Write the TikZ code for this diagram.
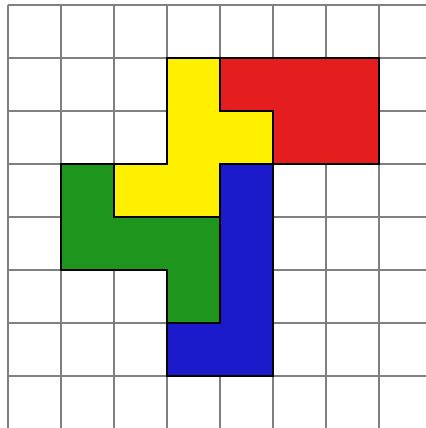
\documentclass[tikz,border=0pt]{standalone}
\definecolor{pyellow}{RGB}{255,240,0}
\definecolor{pred}{RGB}{228,30,30}
\definecolor{pblue}{RGB}{27,27,204}
\definecolor{pgreen}{RGB}{30,150,30}
\begin{document}
\begin{tikzpicture}[x=1cm,y=1cm]
   \useasboundingbox (-0.151,0.019) rectangle (7.868,8.094);
   %grid
   \draw[gray,line width=0.6pt] (0,0) grid (8,8);
   %yellow
   \filldraw[fill=pyellow,draw=black,line width=0.8pt] (3,7) -- (4,7) -- (4,6) -- (5,6) -- (5,5) -- (4,5) -- (4,4) -- (2,4) -- (2,5) -- (3,5) -- cycle;
   %red
   \filldraw[fill=pred,draw=black,line width=0.8pt] (4,7) -- (7,7) -- (7,5) -- (5,5) -- (5,6) -- (4,6) -- cycle;
   %blue
   \filldraw[fill=pblue,draw=black,line width=0.8pt] (4,5) -- (5,5) -- (5,1) -- (3,1) -- (3,2) -- (4,2) -- cycle;
   %green
   \filldraw[fill=pgreen,draw=black,line width=0.8pt] (1,5) -- (2,5) -- (2,4) -- (4,4) -- (4,2) -- (3,2) -- (3,3) -- (1,3) -- cycle;
\end{tikzpicture}
\end{document}
